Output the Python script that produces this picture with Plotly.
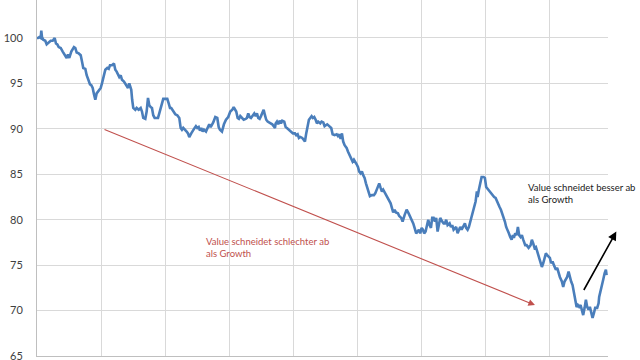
import plotly.graph_objects as go

# Time position (grid units) and index value
t = [0.0, 0.016, 0.036, 0.058, 0.067, 0.078, 0.098, 0.129, 0.151, 0.183, 0.214, 0.245, 0.276, 0.296, 0.317, 0.339,
     0.370, 0.401, 0.432, 0.463, 0.484, 0.504, 0.535, 0.557, 0.577, 0.598, 0.619, 0.651, 0.682, 0.702, 0.722, 0.754,
     0.775, 0.807, 0.827, 0.847, 0.869, 0.889, 0.910, 0.931, 0.963, 0.994, 1.014, 1.034, 1.066, 1.097, 1.119, 1.139,
     1.170, 1.201, 1.222, 1.243, 1.264, 1.284, 1.306, 1.326, 1.357, 1.388, 1.420, 1.440, 1.471, 1.485, 1.502, 1.534,
     1.555, 1.587, 1.618, 1.638, 1.658, 1.690, 1.711, 1.732, 1.752, 1.774, 1.794, 1.814, 1.836, 1.867, 1.888, 1.908,
     1.930, 1.950, 1.970, 2.002, 2.033, 2.055, 2.075, 2.095, 2.126, 2.158, 2.189, 2.220, 2.242, 2.262, 2.282, 2.314,
     2.335, 2.356, 2.376, 2.407, 2.429, 2.460, 2.480, 2.501, 2.523, 2.543, 2.563, 2.585, 2.605, 2.637, 2.668, 2.688,
     2.710, 2.730, 2.750, 2.782, 2.813, 2.835, 2.855, 2.886, 2.917, 2.949, 2.984, 3.016, 3.047, 3.069, 3.089, 3.109,
     3.131, 3.151, 3.172, 3.193, 3.225, 3.256, 3.276, 3.296, 3.318, 3.339, 3.359, 3.390, 3.412, 3.432, 3.452, 3.474,
     3.495, 3.515, 3.537, 3.557, 3.577, 3.599, 3.630, 3.651, 3.671, 3.693, 3.713, 3.724, 3.744, 3.764, 3.786, 3.807,
     3.827, 3.858, 3.880, 3.900, 3.931, 3.963, 3.994, 4.025, 4.045, 4.067, 4.087, 4.108, 4.139, 4.161, 4.181, 4.201,
     4.223, 4.243, 4.264, 4.285, 4.306, 4.326, 4.348, 4.368, 4.388, 4.420, 4.441, 4.467, 4.488, 4.509, 4.529, 4.560,
     4.591, 4.613, 4.644, 4.676, 4.696, 4.716, 4.738, 4.758, 4.778, 4.800, 4.831, 4.852, 4.883, 4.903, 4.925, 4.945,
     4.966, 4.988, 5.008, 5.028, 5.050, 5.070, 5.090, 5.112, 5.133, 5.153, 5.175, 5.195, 5.226, 5.257, 5.278, 5.300,
     5.320, 5.340, 5.362, 5.382, 5.402, 5.434, 5.465, 5.496, 5.518, 5.538, 5.558, 5.580, 5.601, 5.632, 5.652, 5.683,
     5.705, 5.736, 5.768, 5.799, 5.819, 5.839, 5.871, 5.892, 5.917, 5.939, 5.959, 5.980, 6.002, 6.022, 6.042, 6.064,
     6.084, 6.105, 6.126, 6.147, 6.167, 6.189, 6.209, 6.229, 6.251, 6.271, 6.292, 6.323, 6.345, 6.365, 6.385, 6.407,
     6.438, 6.459, 6.479, 6.501, 6.521, 6.541, 6.563, 6.583, 6.604, 6.626, 6.657, 6.677, 6.697, 6.719, 6.739, 6.760,
     6.782, 6.802, 6.822, 6.844, 6.864, 6.875, 6.895, 6.916, 6.938, 6.969, 6.989, 7.009, 7.041, 7.072, 7.103, 7.134,
     7.156, 7.176, 7.197, 7.218, 7.239, 7.259, 7.281, 7.301, 7.321, 7.343, 7.363, 7.384, 7.406, 7.426, 7.441, 7.462,
     7.484, 7.504, 7.524, 7.546, 7.566, 7.587, 7.618, 7.640, 7.671, 7.702, 7.722, 7.743, 7.764, 7.785, 7.805, 7.827,
     7.858, 7.878, 7.899, 7.921, 7.941, 7.961, 7.983, 8.003, 8.023, 8.045, 8.066, 8.097, 8.117, 8.139, 8.159, 8.190,
     8.211, 8.232, 8.253, 8.273, 8.295, 8.315, 8.335, 8.357, 8.378, 8.398, 8.420, 8.440, 8.460, 8.482, 8.502, 8.523,
     8.545, 8.565, 8.585, 8.607, 8.627, 8.647, 8.669, 8.690, 8.710, 8.741, 8.763, 8.772, 8.794, 8.814, 8.835, 8.857,
     8.877, 8.888]

value = [100.0, 100.0, 100.1, 100.0, 100.8, 100.1, 99.8, 99.7, 99.3, 99.5, 99.7, 99.7, 100.0, 99.4, 99.3, 99.0,
         98.9, 98.5, 98.2, 97.8, 98.2, 97.8, 98.5, 98.8, 99.0, 98.9, 98.4, 98.3, 98.1, 97.4, 96.7, 96.6,
         95.9, 95.3, 94.9, 94.8, 94.5, 93.8, 93.2, 93.9, 94.2, 94.5, 95.0, 95.7, 96.5, 96.7, 96.6, 97.0,
         97.0, 97.2, 96.5, 96.3, 95.9, 95.7, 95.9, 95.4, 95.2, 94.9, 94.5, 95.0, 94.3, 93.2, 92.3, 92.1,
         92.3, 92.1, 92.3, 91.9, 91.2, 91.1, 91.9, 93.4, 92.6, 92.4, 92.3, 91.5, 91.2, 91.2, 91.2, 91.7,
         92.3, 92.8, 93.3, 93.3, 93.3, 92.8, 92.3, 92.3, 92.0, 91.6, 91.5, 91.2, 90.1, 89.9, 90.1, 89.9,
         89.7, 89.5, 89.1, 89.5, 89.7, 90.1, 90.3, 90.1, 90.2, 89.8, 90.1, 89.7, 89.9, 89.7, 90.2, 90.5,
         90.2, 90.4, 90.7, 91.3, 91.2, 90.2, 89.9, 89.7, 90.5, 91.0, 91.3, 91.9, 92.1, 92.4, 92.1, 91.9,
         91.2, 91.1, 91.4, 91.2, 91.0, 91.1, 91.2, 91.7, 91.3, 91.2, 91.4, 91.7, 91.4, 91.7, 91.2, 91.1,
         91.4, 91.7, 92.1, 91.5, 91.0, 90.8, 90.7, 90.6, 90.5, 90.3, 90.1, 90.6, 90.8, 90.5, 90.9, 90.6,
         90.9, 90.8, 90.2, 90.1, 89.9, 89.8, 89.5, 89.5, 89.3, 89.4, 89.0, 89.1, 89.0, 88.8, 88.6, 89.5,
         90.2, 91.0, 91.2, 91.4, 91.2, 91.3, 91.0, 90.6, 90.8, 90.6, 90.8, 90.7, 90.3, 90.4, 90.5, 90.3,
         90.1, 89.4, 89.3, 89.4, 89.2, 89.4, 88.9, 89.5, 88.6, 88.2, 87.9, 87.5, 87.1, 86.8, 86.4, 86.6,
         86.4, 86.1, 85.8, 85.3, 85.1, 85.3, 84.9, 84.6, 84.0, 83.5, 82.9, 82.6, 82.7, 82.7, 82.9, 83.3,
         83.7, 84.0, 83.5, 83.1, 83.3, 82.9, 82.6, 82.2, 81.8, 81.3, 80.8, 81.1, 80.8, 80.7, 80.4, 80.2,
         79.8, 80.5, 81.1, 80.7, 80.4, 80.0, 79.6, 79.1, 78.5, 78.7, 78.9, 78.5, 79.1, 78.9, 78.5, 78.7,
         79.2, 80.0, 79.4, 79.1, 80.2, 80.2, 79.8, 80.2, 78.7, 79.4, 80.2, 79.8, 79.6, 79.6, 80.0, 79.4,
         79.6, 79.2, 79.4, 78.9, 79.1, 79.2, 78.5, 78.9, 79.2, 78.9, 79.4, 79.6, 79.1, 78.9, 79.2, 79.8,
         80.2, 80.7, 81.3, 82.0, 83.1, 82.5, 83.3, 84.2, 84.7, 84.7, 84.6, 83.6, 83.3, 83.1, 82.7, 82.5,
         82.4, 82.0, 81.8, 81.4, 81.1, 80.7, 80.3, 79.8, 79.2, 78.9, 78.5, 78.1, 77.8, 78.3, 78.0, 78.5,
         78.3, 79.2, 78.3, 78.1, 78.3, 77.8, 77.2, 77.2, 76.9, 77.2, 77.8, 77.4, 76.9, 77.0, 76.5, 76.1,
         75.4, 74.8, 75.2, 75.9, 76.3, 76.1, 75.9, 75.8, 75.2, 75.4, 75.0, 74.5, 74.7, 74.1, 73.7, 73.2,
         72.6, 73.2, 73.4, 73.7, 74.3, 73.6, 73.2, 72.8, 72.1, 71.4, 70.4, 70.6, 70.4, 70.6, 69.9, 69.5,
         70.3, 71.2, 70.4, 70.1, 70.4, 69.7, 69.2, 69.7, 70.3, 70.3, 70.8, 71.5, 72.1, 72.6, 73.4, 74.1,
         74.5, 73.9]

y_ticks = [65, 70, 75, 80, 85, 90, 95, 100]
x_grid = [1, 2, 3, 4, 5, 6, 7, 8]

red_arrow = {"from": (1.03, 90.0), "to": (7.77, 70.6)}
black_arrow = {"from": (8.52, 72.1), "to": (9.04, 78.7)}
red_text = "Value schneidet schlechter ab<br>als Growth"
black_text = "Value schneidet besser ab<br>als Growth"

FONT = "Lato, 'Open Sans', sans-serif"

fig = go.Figure()
fig.add_trace(go.Scatter(x=t, y=value, mode="lines",
                         line=dict(color="#4A7EBB", width=2.6), hoverinfo="skip"))

fig.add_annotation(x=red_arrow["to"][0], y=red_arrow["to"][1],
                   ax=red_arrow["from"][0], ay=red_arrow["from"][1],
                   xref="x", yref="y", axref="x", ayref="y", text="",
                   showarrow=True, arrowhead=2, arrowsize=1.2, arrowwidth=1.1, arrowcolor="#C0504D")
fig.add_annotation(x=black_arrow["to"][0], y=black_arrow["to"][1],
                   ax=black_arrow["from"][0], ay=black_arrow["from"][1],
                   xref="x", yref="y", axref="x", ayref="y", text="",
                   showarrow=True, arrowhead=2, arrowsize=1.1, arrowwidth=1.6, arrowcolor="#000000")
fig.add_annotation(x=2.605, y=76.9, xref="x", yref="y", text=red_text, showarrow=False,
                   xanchor="left", yanchor="middle", align="left",
                   font=dict(family=FONT, size=9.5, color="#C0504D"))
fig.add_annotation(x=7.63, y=82.85, xref="x", yref="y", text=black_text, showarrow=False,
                   xanchor="left", yanchor="middle", align="left",
                   font=dict(family=FONT, size=9.5, color="#1A1A1A"))

fig.update_layout(
    width=640, height=360,
    margin=dict(l=37, r=32, t=0, b=4, autoexpand=False),
    paper_bgcolor="white", plot_bgcolor="white",
    showlegend=False,
    font=dict(family=FONT, size=11, color="#595959"),
    xaxis=dict(range=[0, 8.91], tickvals=x_grid, showticklabels=False, ticks="", automargin=False,
               showgrid=True, gridcolor="#D9D9D9", gridwidth=1, zeroline=False,
               showline=True, linecolor="#BFBFBF", linewidth=1, mirror=False),
    yaxis=dict(range=[65, 104.18], tickvals=y_ticks, ticks="", ticklabelstandoff=11, automargin=False,
               ticklabeloverflow="allow",
               showgrid=True, gridcolor="#D9D9D9", gridwidth=1, zeroline=False,
               showline=True, linecolor="#BFBFBF", linewidth=1,
               tickfont=dict(family=FONT, size=11, color="#404040")),
)

fig.write_html("out.html", config={"displayModeBar": False},
               post_script="document.body.style.margin='0px';")
